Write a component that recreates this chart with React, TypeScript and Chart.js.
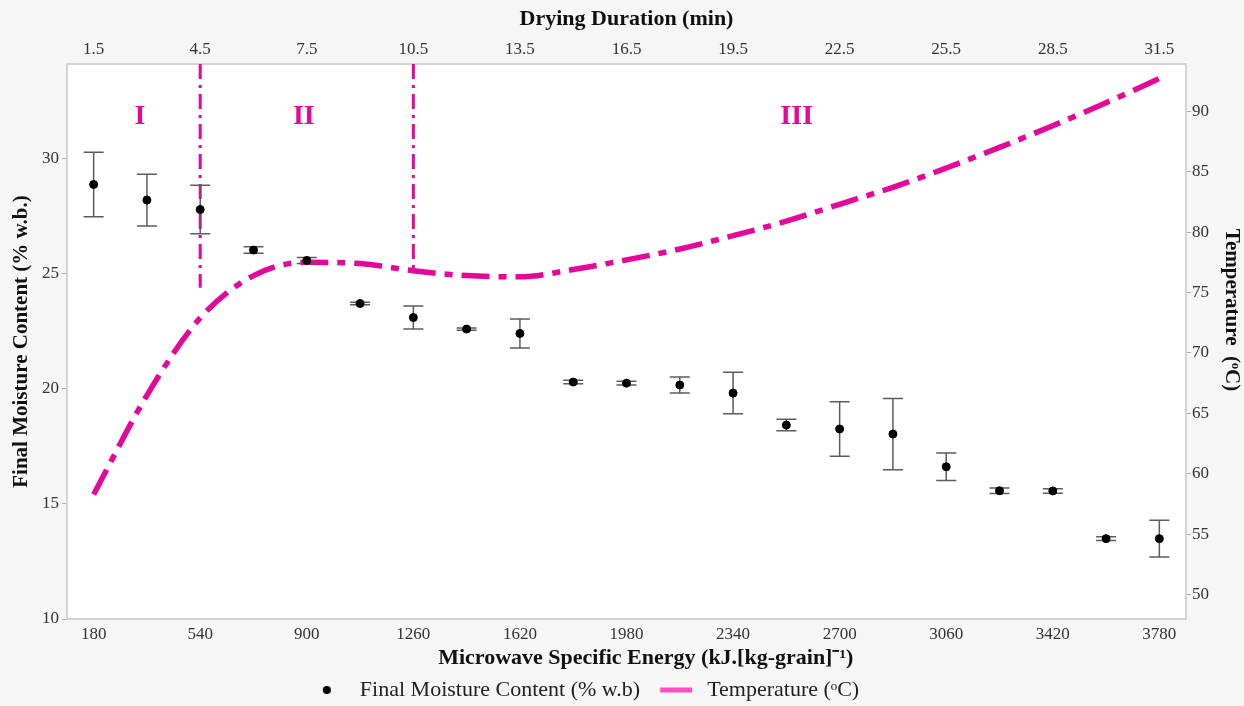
import React, { useEffect, useRef } from "react";
import { Chart, registerables } from "chart.js";

Chart.register(...registerables);

// ---------- data ----------
const energyKJ = [180, 360, 540, 720, 900, 1080, 1260, 1440, 1620, 1800, 1980, 2160, 2340, 2520, 2700, 2880, 3060, 3240, 3420, 3600, 3780];
const moisture = [28.87, 28.19, 27.78, 26.02, 25.57, 23.7, 23.09, 22.59, 22.4, 20.29, 20.24, 20.16, 19.81, 18.42, 18.25, 18.03, 16.61, 15.57, 15.56, 13.49, 13.49];
const moistureErr = [1.4, 1.12, 1.05, 0.14, 0.13, 0.05, 0.5, 0.05, 0.63, 0.08, 0.08, 0.35, 0.9, 0.25, 1.18, 1.55, 0.6, 0.12, 0.1, 0.08, 0.8];
const temperature = [58.3, 66.5, 72.9, 76.4, 77.5, 77.4, 76.8, 76.4, 76.3, 76.9, 77.7, 78.6, 79.7, 80.9, 82.3, 83.7, 85.3, 87.0, 88.8, 90.7, 92.7];

const energyTicks = [180, 540, 900, 1260, 1620, 1980, 2340, 2700, 3060, 3420, 3780];
const durationTicks = [1.5, 4.5, 7.5, 10.5, 13.5, 16.5, 19.5, 22.5, 25.5, 28.5, 31.5];
const moistureTicks = [10, 15, 20, 25, 30];
const temperatureTicks = [50, 55, 60, 65, 70, 75, 80, 85, 90];

const KJ_PER_MIN = 120;
const energyRange = [90, 3870];
const moistureRange = [10, 34.1];
const temperatureRange = [48, 93.9];

const phaseBoundaryEnergy = [540, 1260];
const phaseBoundaryTempEnd = [75.4, 76.8];
const phaseLabels = ["I", "II", "III"];
const phaseLabelEnergy = [336, 890, 2555];
const phaseLabelMoisture = 31.8;

// ---------- style ----------
const SERIF = "'Liberation Serif', 'Times New Roman', serif";
const MAGENTA = "#E5079A";
const LEGEND_SHIFT = [-40, 5];
const NBSP = "\u00a0";

const backgroundPlugin = {
  id: "bgPlugin",
  beforeDraw(chart: any) {
    const { ctx, chartArea: a, width, height } = chart;
    ctx.save();
    ctx.fillStyle = "#f6f6f6";
    ctx.fillRect(0, 0, width, height);
    ctx.fillStyle = "#ffffff";
    ctx.fillRect(a.left, a.top, a.right - a.left, a.bottom - a.top);
    ctx.restore();
  },
};

const legendShiftPlugin = {
  id: "legendShiftPlugin",
  afterLayout(chart: any) {
    const lg = chart.legend;
    if (!lg) return;
    lg.left += LEGEND_SHIFT[0];
    lg.right += LEGEND_SHIFT[0];
    lg.top += LEGEND_SHIFT[1];
    lg.bottom += LEGEND_SHIFT[1];
  },
};

const errorBarPlugin = {
  id: "errorBarPlugin",
  beforeDatasetDraw(chart: any, args: any) {
    if (args.index !== 0) return;
    const { ctx } = chart;
    const x = chart.scales.x;
    const y = chart.scales.y;
    ctx.save();
    ctx.strokeStyle = "#5c5c5c";
    ctx.lineWidth = 1.5;
    energyKJ.forEach((e, i) => {
      const px = x.getPixelForValue(e);
      const top = y.getPixelForValue(moisture[i] + moistureErr[i]);
      const bot = y.getPixelForValue(moisture[i] - moistureErr[i]);
      ctx.beginPath();
      ctx.moveTo(px, top);
      ctx.lineTo(px, bot);
      ctx.moveTo(px - 10, top);
      ctx.lineTo(px + 10, top);
      ctx.moveTo(px - 10, bot);
      ctx.lineTo(px + 10, bot);
      ctx.stroke();
    });
    ctx.restore();
  },
};

const phaseLabelPlugin = {
  id: "phaseLabelPlugin",
  afterDatasetsDraw(chart: any) {
    const { ctx } = chart;
    const x = chart.scales.x;
    const y = chart.scales.y;
    ctx.save();
    ctx.fillStyle = MAGENTA;
    ctx.font = `bold 28px ${SERIF}`;
    ctx.textAlign = "center";
    ctx.textBaseline = "middle";
    phaseLabels.forEach((t, i) => {
      ctx.fillText(t, x.getPixelForValue(phaseLabelEnergy[i]), y.getPixelForValue(phaseLabelMoisture));
    });
    ctx.restore();
  },
};

function makeDotImage(): HTMLCanvasElement {
  const c = document.createElement("canvas");
  c.width = 10;
  c.height = 10;
  const g = c.getContext("2d")!;
  g.fillStyle = "#000";
  g.beginPath();
  g.arc(5, 5, 4, 0, Math.PI * 2);
  g.fill();
  return c;
}

function makeLineImage(): HTMLCanvasElement {
  const c = document.createElement("canvas");
  c.width = 44;
  c.height = 8;
  const g = c.getContext("2d")!;
  g.fillStyle = "#FF4FBE";
  g.fillRect(8, 1.5, 32, 5);
  return c;
}

const tickFont = { family: SERIF, size: 17 };
const plainNumber = (v: any) => String(v);

export default function App() {
  const ref = useRef<HTMLCanvasElement | null>(null);

  useEffect(() => {
    if (!ref.current) return;
    const dotImg = makeDotImage();
    const lineImg = makeLineImage();

    const boundaryDatasets = phaseBoundaryEnergy.map((e, i) => ({
      type: "line" as const,
      label: `boundary${i}`,
      data: [
        { x: e, y: temperatureRange[1] },
        { x: e, y: phaseBoundaryTempEnd[i] },
      ],
      yAxisID: "y1",
      borderColor: MAGENTA,
      borderWidth: 3,
      borderDash: [15, 6, 3, 6],
      pointRadius: 0,
      fill: false,
    }));

    const chart = new Chart(ref.current, {
      type: "scatter",
      data: {
        datasets: [
          {
            type: "scatter",
            label: "Final Moisture Content (% w.b)",
            data: energyKJ.map((e, i) => ({ x: e, y: moisture[i] })),
            yAxisID: "y",
            backgroundColor: "#000",
            borderColor: "#000",
            pointRadius: 4,
            pointHoverRadius: 4,
          },
          {
            type: "line",
            label: "Temperature (ᵒC)",
            data: energyKJ.map((e, i) => ({ x: e, y: temperature[i] })),
            yAxisID: "y1",
            borderColor: MAGENTA,
            borderWidth: 5.5,
            borderDash: [28, 9, 8, 9],
            cubicInterpolationMode: "monotone",
            pointRadius: 0,
            fill: false,
          },
          ...boundaryDatasets,
        ] as any,
      },
      options: {
        animation: false,
        responsive: false,
        devicePixelRatio: 1,
        layout: { padding: 0 },
        plugins: {
          tooltip: { enabled: false },
          legend: {
            display: true,
            position: "bottom",
            labels: {
              usePointStyle: true,
              pointStyleWidth: 44,
              padding: 12,
              color: "#222",
              font: { family: SERIF, size: 22 },
              generateLabels: () => [
                {
                  text: "Final Moisture Content (% w.b)",
                  pointStyle: dotImg,
                  fillStyle: "#000",
                  strokeStyle: "#000",
                  lineWidth: 0,
                  hidden: false,
                  datasetIndex: 0,
                  fontColor: "#222",
                } as any,
                {
                  text: "Temperature (ᵒC)",
                  pointStyle: lineImg,
                  fillStyle: "#FF4FBE",
                  strokeStyle: "#FF4FBE",
                  lineWidth: 0,
                  hidden: false,
                  datasetIndex: 1,
                  fontColor: "#222",
                } as any,
              ],
            },
          },
        },
        scales: {
          x: {
            type: "linear",
            position: "bottom",
            min: energyRange[0],
            max: energyRange[1],
            afterBuildTicks: (s: any) => {
              s.ticks = energyTicks.map((v) => ({ value: v }));
            },
            afterFit: (s: any) => {
              s.height = 43;
            },
            ticks: {
              autoSkip: false,
              maxRotation: 0,
              padding: -3,
              color: "#333",
              font: tickFont,
              callback: plainNumber,
            },
            grid: { display: false },
            border: { display: true, color: "#d4d4d4", width: 2 },
            title: {
              display: true,
              text: NBSP.repeat(7) + "Microwave Specific Energy (kJ.[kg-grain]⁻¹)",
              color: "#111",
              font: { family: SERIF, size: 22, weight: "bold" },
              padding: { top: 0, bottom: -10 },
            },
          },
          x2: {
            type: "linear",
            position: "top",
            min: energyRange[0] / KJ_PER_MIN,
            max: energyRange[1] / KJ_PER_MIN,
            afterBuildTicks: (s: any) => {
              s.ticks = durationTicks.map((v) => ({ value: v }));
            },
            afterFit: (s: any) => {
              s.height = 64;
            },
            ticks: {
              autoSkip: false,
              maxRotation: 0,
              padding: -4,
              color: "#333",
              font: tickFont,
              callback: (v: any) => Number(v).toFixed(1),
            },
            grid: { display: false },
            border: { display: true, color: "#d4d4d4", width: 2 },
            title: {
              display: true,
              text: "Drying Duration (min)",
              color: "#111",
              font: { family: SERIF, size: 22, weight: "bold" },
              padding: { top: 6, bottom: 0 },
            },
          },
          y: {
            type: "linear",
            position: "left",
            min: moistureRange[0],
            max: moistureRange[1],
            afterBuildTicks: (s: any) => {
              s.ticks = moistureTicks.map((v) => ({ value: v }));
            },
            afterFit: (s: any) => {
              s.width = 67;
            },
            ticks: {
              padding: 3,
              color: "#333",
              font: tickFont,
              callback: plainNumber,
            },
            grid: { display: true, drawOnChartArea: false, drawTicks: true, tickLength: 5, color: "#b0b0b0" },
            border: { display: true, color: "#d4d4d4", width: 2 },
            title: {
              display: true,
              text: "Final Moisture Content (% w.b.)",
              color: "#111",
              font: { family: SERIF, size: 21, weight: "bold" },
              padding: { top: 9, bottom: 0 },
            },
          },
          y1: {
            type: "linear",
            position: "right",
            min: temperatureRange[0],
            max: temperatureRange[1],
            afterBuildTicks: (s: any) => {
              s.ticks = temperatureTicks.map((v) => ({ value: v }));
            },
            afterFit: (s: any) => {
              s.width = 58;
            },
            ticks: {
              padding: 1,
              color: "#333",
              font: tickFont,
              callback: plainNumber,
            },
            grid: { display: true, drawOnChartArea: false, drawTicks: true, tickLength: 5, color: "#b0b0b0" },
            border: { display: true, color: "#d4d4d4", width: 2 },
            title: {
              display: true,
              text: "Temperature  (ᵒC)" + NBSP.repeat(12),
              color: "#111",
              font: { family: SERIF, size: 21, weight: "bold" },
              padding: { top: 0, bottom: 0 },
            },
          },
        },
      } as any,
      plugins: [backgroundPlugin, legendShiftPlugin, errorBarPlugin, phaseLabelPlugin],
    });

    return () => chart.destroy();
  }, []);

  return (
    <div style={{ position: "absolute", left: 0, top: 0, width: 1244, height: 706 }}>
      <canvas ref={ref} width={1244} height={706} style={{ display: "block" }} />
    </div>
  );
}
